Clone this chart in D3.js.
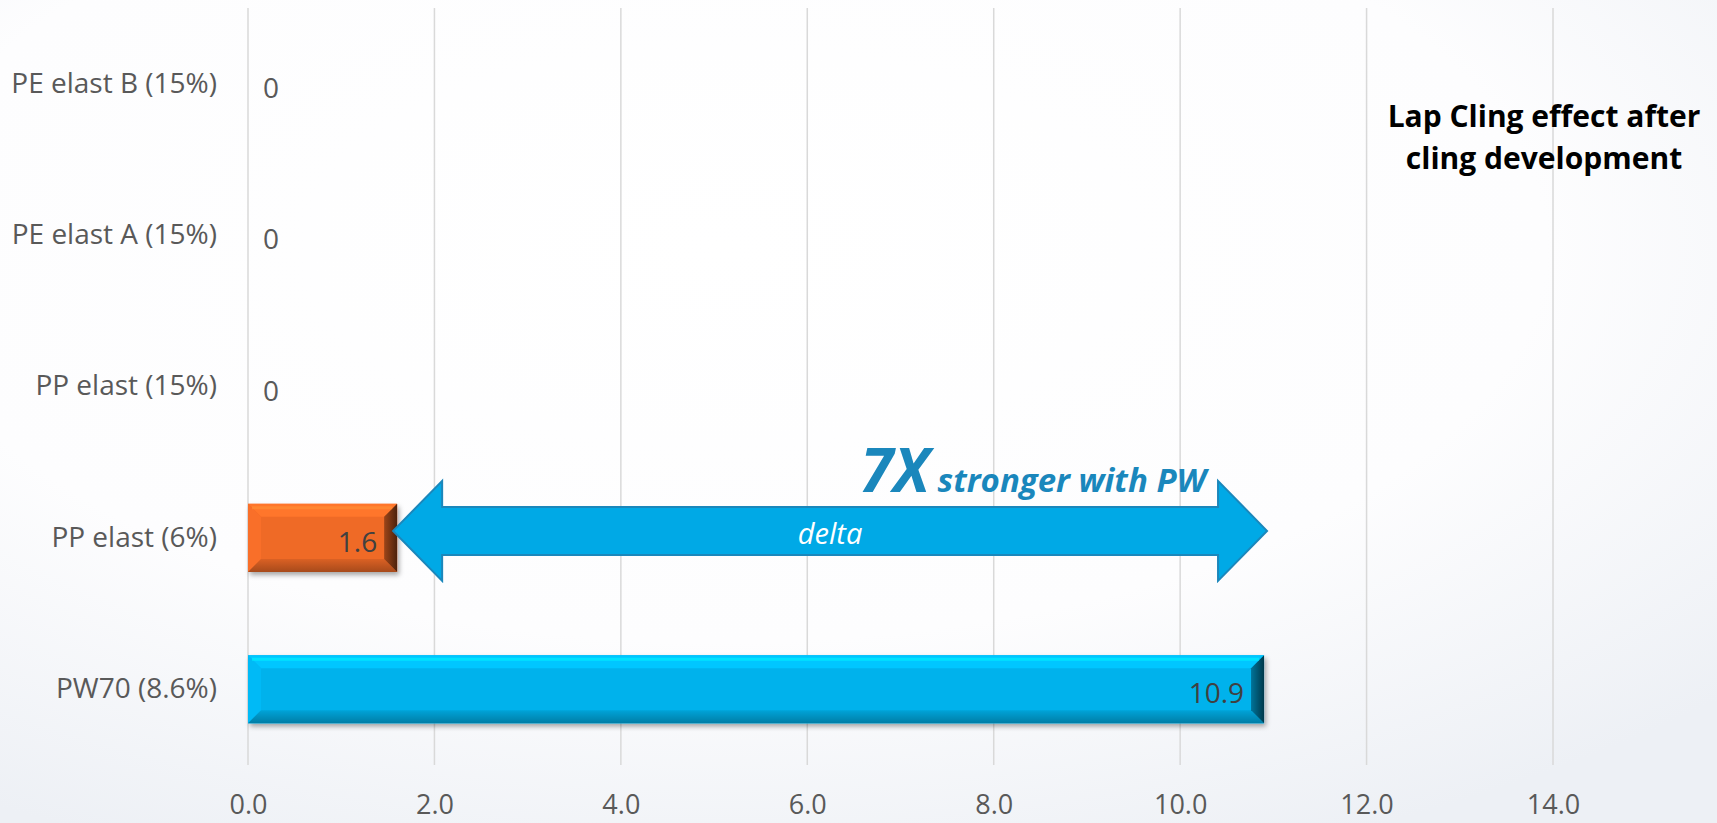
<!DOCTYPE html>
<html>
<head>
<meta charset="utf-8">
<script src="https://cdn.jsdelivr.net/npm/d3@7"></script>
<style>
  html, body { margin: 0; padding: 0; background: #fff; }
  svg { display: block; }
</style>
</head>
<body>
<svg id="chart" width="1717" height="823"></svg>
<script>
// Lap cling after cling development, per film formulation
const categories = ["PE elast B (15%)", "PE elast A (15%)", "PP elast (15%)", "PP elast (6%)", "PW70 (8.6%)"];
const values = [0, 0, 0, 1.6, 10.9];
const barColors = ["#ef6a27", "#ef6a27", "#ef6a27", "#ef6a27", "#00b2ec"];
const tickValues = [0, 2, 4, 6, 8, 10, 12, 14];
const titleLines = ["Lap Cling effect after", "cling development"];
const arrowFrom = "PP elast (6%)";
const arrowTo = "PW70 (8.6%)";
const calloutBig = "7X";
const calloutSmall = "stronger with PW";
const arrowLabel = "delta";

const W = 1717, H = 823;
const margin = { left: 248, right: 164, top: 8, bottom: 58 };
const svg = d3.select("#chart");
const defs = svg.append("defs");

// soft backdrop
const bg = defs.append("radialGradient").attr("id", "bg")
  .attr("cx", "42%").attr("cy", "30%").attr("r", "80%");
bg.append("stop").attr("offset", "0%").attr("stop-color", "#ffffff");
bg.append("stop").attr("offset", "60%").attr("stop-color", "#fdfdfe");
bg.append("stop").attr("offset", "100%").attr("stop-color", "#edf0f5");
svg.append("rect").attr("width", W).attr("height", H).attr("fill", "url(#bg)");

// drop shadow for bars
const sh = defs.append("filter").attr("id", "shadow")
  .attr("x", "-5%").attr("y", "-20%").attr("width", "115%").attr("height", "150%");
sh.append("feDropShadow").attr("dx", 2).attr("dy", 3).attr("stdDeviation", 2.5)
  .attr("flood-color", "#000").attr("flood-opacity", 0.35);

const x = d3.scaleLinear().domain([0, 14]).range([margin.left, W - margin.right]);
const y = d3.scaleBand().domain(categories)
  .range([margin.top, H - margin.bottom]).paddingInner(0.55).paddingOuter(0.275);

// vertical gridlines
svg.append("g").selectAll("line").data(tickValues).join("line")
  .attr("x1", d => x(d)).attr("x2", d => x(d))
  .attr("y1", margin.top).attr("y2", H - margin.bottom)
  .attr("stroke", "#d9d9d9").attr("stroke-width", 1.5);

// x axis labels
const xAxis = d3.axisBottom(x).tickValues(tickValues).tickFormat(d3.format(".1f")).tickSize(0).tickPadding(30);
const gx = svg.append("g").attr("transform", `translate(0,${H - margin.bottom})`).call(xAxis);
gx.select(".domain").remove();
gx.selectAll("text").attr("font-family", "Open Sans, sans-serif").attr("font-size", 27)
  .attr("fill", "#595959");

// category labels
const yAxis = d3.axisLeft(y).tickSize(0).tickPadding(31);
const gy = svg.append("g").attr("transform", `translate(${margin.left},0)`).call(yAxis);
gy.select(".domain").remove();
gy.selectAll("text").attr("font-family", "Open Sans, sans-serif").attr("font-size", 28)
  .attr("fill", "#595959");

// bevel shading per colour
function shade(c, k) { return d3.color(c).darker(k).formatHex(); }
function tint(c, k) { return d3.color(c).brighter(k).formatHex(); }

const bars = categories.map((c, i) => ({ cat: c, v: values[i], color: barColors[i] }))
  .filter(d => d.v > 0);

const bevel = 13;
const gb = svg.append("g");
bars.forEach((d, i) => {
  const x0 = x(0), x1 = x(d.v), y0 = y(d.cat), y1 = y0 + y.bandwidth();
  const g = gb.append("g");
  const gid = "rb" + i;
  const rg = defs.append("linearGradient").attr("id", gid).attr("x1", 0).attr("x2", 1).attr("y1", 0).attr("y2", 0);
  rg.append("stop").attr("offset", "0%").attr("stop-color", shade(d.color, 1.2));
  rg.append("stop").attr("offset", "100%").attr("stop-color", shade(d.color, 3.2));
  const bid = "bb" + i;
  const bgr = defs.append("linearGradient").attr("id", bid).attr("x1", 0).attr("x2", 0).attr("y1", 0).attr("y2", 1);
  bgr.append("stop").attr("offset", "0%").attr("stop-color", shade(d.color, 0.25));
  bgr.append("stop").attr("offset", "100%").attr("stop-color", shade(d.color, 1.0));
  g.append("rect").attr("x", x0).attr("y", y0).attr("width", x1 - x0).attr("height", y1 - y0)
    .attr("fill", d.color).attr("filter", "url(#shadow)");
  const poly = (pts, fill) => g.append("polygon").attr("points", pts.map(p => p.join(",")).join(" ")).attr("fill", fill);
  // top bevel
  poly([[x0, y0], [x1, y0], [x1 - bevel, y0 + bevel], [x0 + bevel, y0 + bevel]], tint(d.color, 0.3));
  // left bevel
  poly([[x0, y0], [x0 + bevel, y0 + bevel], [x0 + bevel, y1 - bevel], [x0, y1]], tint(d.color, 0.12));
  // bottom bevel
  poly([[x0, y1], [x0 + bevel, y1 - bevel], [x1 - bevel, y1 - bevel], [x1, y1]], `url(#${bid})`);
  // right bevel
  poly([[x1, y0], [x1, y1], [x1 - bevel, y1 - bevel], [x1 - bevel, y0 + bevel]], `url(#${gid})`);
  // highlight along the top edge
  g.append("line").attr("x1", x0 + 4).attr("x2", x1 - 5).attr("y1", y0 + 4).attr("y2", y0 + 4)
    .attr("stroke", tint(d.color, 0.9)).attr("stroke-width", 3).attr("opacity", 0.6);
});

// value labels
svg.append("g").selectAll("text").data(categories.map((c, i) => ({ cat: c, v: values[i] }))).join("text")
  .attr("x", d => d.v > 0 ? x(d.v) - 20 : x(0) + 15)
  .attr("y", d => y(d.cat) + y.bandwidth() / 2 + 3)
  .attr("text-anchor", d => d.v > 0 ? "end" : "start")
  .attr("dominant-baseline", "central")
  .attr("font-family", "Open Sans, sans-serif").attr("font-size", 28)
  .attr("fill", d => d.v > 0 ? "#404040" : "#595959")
  .text(d => d.v > 0 ? d3.format(".1f")(d.v) : "0");

// double-headed "delta" arrow between the two bar ends
const vFrom = values[categories.indexOf(arrowFrom)];
const vTo = values[categories.indexOf(arrowTo)];
const ay = y(arrowFrom) + y.bandwidth() / 2 - 7;
const ax0 = x(vFrom) - 4, ax1 = x(vTo) + 3;
const headL = 49, headH = 50, shaftH = 24;
const arrowPts = [
  [ax0, ay], [ax0 + headL, ay - headH], [ax0 + headL, ay - shaftH],
  [ax1 - headL, ay - shaftH], [ax1 - headL, ay - headH], [ax1, ay],
  [ax1 - headL, ay + headH], [ax1 - headL, ay + shaftH],
  [ax0 + headL, ay + shaftH], [ax0 + headL, ay + headH]
];
svg.append("polygon").attr("points", arrowPts.map(p => p.join(",")).join(" "))
  .attr("fill", "#00a9e6").attr("stroke", "#1b87bb").attr("stroke-width", 2)
  .attr("stroke-linejoin", "miter");

svg.append("text").attr("x", (ax0 + ax1) / 2).attr("y", ay + 2)
  .attr("text-anchor", "middle").attr("dominant-baseline", "central")
  .attr("font-family", "Open Sans, sans-serif").attr("font-style", "italic")
  .attr("font-size", 29).attr("fill", "#ffffff").text(arrowLabel);

const callout = svg.append("text").attr("x", ax1 - headL - 12).attr("y", ay - 39)
  .attr("text-anchor", "end").attr("font-family", "Open Sans, sans-serif")
  .attr("font-style", "italic").attr("font-weight", 700).attr("fill", "#1a87bc");
callout.append("tspan").attr("font-size", 60).text(calloutBig);
callout.append("tspan").attr("font-size", 33).attr("dx", 8).text(calloutSmall);

// chart title
svg.append("text").attr("x", 1544).attr("y", 127)
  .attr("text-anchor", "middle").attr("font-family", "Open Sans, sans-serif")
  .attr("font-weight", 700).attr("font-size", 30).attr("fill", "#000")
  .selectAll("tspan").data(titleLines).join("tspan")
  .attr("x", 1544).attr("dy", (d, i) => i === 0 ? 0 : 42).text(d => d);
</script>
</body>
</html>
